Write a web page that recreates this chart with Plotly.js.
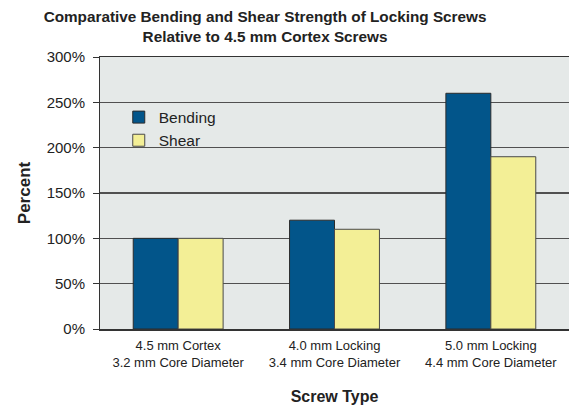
<!DOCTYPE html>
<html>
<head>
<meta charset="utf-8">
<script src="https://cdn.plot.ly/plotly-3.0.1.min.js"></script>
<style>
  html, body { margin: 0; padding: 0; background: #fff; }
  #chart { width: 570px; height: 408px; }
</style>
</head>
<body>
<div id="chart"></div>
<script>
// Screw types (two-line category labels)
const screwTypes = [
  "4.5 mm Cortex<br>3.2 mm Core Diameter",
  "4.0 mm Locking<br>3.4 mm Core Diameter",
  "5.0 mm Locking<br>4.4 mm Core Diameter"
];
// Strength relative to the 4.5 mm cortex screw, in percent
const bendingPct = [100, 120, 260];
const shearPct = [100, 110, 190];
// Y-axis ticks
const yTickVals = [0, 50, 100, 150, 200, 250, 300];
const yTickText = ["0%", "50%", "100%", "150%", "200%", "250%", "300%"];

const FONT = '"Liberation Sans", Arial, Helvetica, sans-serif';
const INK = "#222222";

const traces = [
  {
    type: "bar", name: "Bending", x: screwTypes, y: bendingPct,
    marker: { color: "#02558a", line: { color: "#2b2b2b", width: 1 } },
    hoverinfo: "none"
  },
  {
    type: "bar", name: "Shear", x: screwTypes, y: shearPct,
    marker: { color: "#f3ef96", line: { color: "#4a4a4a", width: 1 } },
    hoverinfo: "none"
  }
];

const layout = {
  width: 570, height: 408,
  margin: { l: 99.5, r: 1, t: 56.7, b: 79 },
  paper_bgcolor: "#ffffff",
  plot_bgcolor: "#e5e9e8",
  font: { family: FONT, size: 13, color: INK },
  title: {
    text: "<b>Comparative Bending and Shear Strength of Locking Screws<br>Relative to 4.5 mm Cortex Screws</b>",
    font: { family: FONT, size: 15.3, color: INK },
    x: 0.465, xanchor: "center", y: 0.946, yanchor: "top"
  },
  barmode: "group",
  bargap: 0.425,
  bargroupgap: 0,
  showlegend: true,
  legend: {
    x: 0.04, y: 0.84, xanchor: "left", yanchor: "top",
    bgcolor: "rgba(0,0,0,0)",
    font: { family: FONT, size: 15.5, color: INK }
  },
  xaxis: {
    type: "category",
    showgrid: false,
    showline: true, linecolor: "#333", linewidth: 1.5,
    mirror: true,
    ticks: "",
    tickangle: 0,
    ticklabelstandoff: 4,
    tickfont: { family: FONT, size: 13, color: INK },
    title: { text: "<b>Screw Type</b>", font: { family: FONT, size: 16, color: INK }, standoff: 22 }
  },
  yaxis: {
    range: [0, 300],
    tickvals: yTickVals, ticktext: yTickText,
    showgrid: true, gridcolor: "#505050", gridwidth: 1.2,
    zeroline: false,
    showline: true, linecolor: "#333", linewidth: 1,
    ticks: "outside", ticklen: 6, tickcolor: "#333",
    ticklabelstandoff: 5,
    tickfont: { family: FONT, size: 15, color: INK },
    title: { text: "<b>Percent</b>", font: { family: FONT, size: 17, color: INK }, standoff: 11 }
  }
};

Plotly.newPlot("chart", traces, layout, { staticPlot: true, displayModeBar: false });
</script>
</body>
</html>
